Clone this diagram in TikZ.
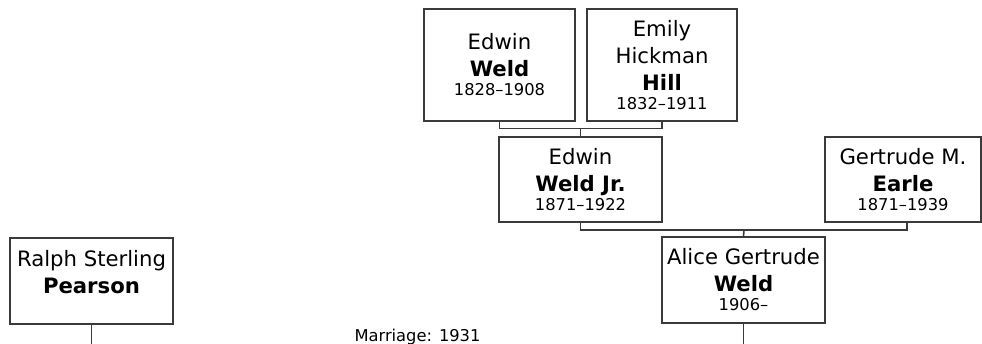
\documentclass[tikz,border=0pt]{standalone}
\usepackage{fontspec}
\setmainfont{DejaVu Sans}
\definecolor{linegray}{HTML}{3A3A3A}
\newcommand{\nm}{\fontsize{21.2}{27}\selectfont}
\newcommand{\dt}{\fontsize{16.3}{19}\selectfont}
\begin{document}
\begin{tikzpicture}[x=1pt,y=-1pt,
  person/.style={draw=linegray, line width=1.6pt, fill=white, inner sep=0pt,
    align=center, text=black, font=\nm},
  conn/.style={draw=linegray, line width=1.6pt},
  note/.style={font=\dt, text=black, inner sep=0pt}]
\useasboundingbox (0,0) rectangle (982,344);

\node[person, minimum width=151pt, minimum height=112pt] (A) at (499.5,65)
  {Edwin\\\textbf{Weld}\\[-8pt]{\dt 1828–1908}};
\node[person, minimum width=150pt, minimum height=112pt] (B) at (662,65)
  {Emily\\Hickman\\\textbf{Hill}\\[-8pt]{\dt 1832–1911}};
\node[person, minimum width=163pt, minimum height=85pt] (C) at (580.5,179.5)
  {Edwin\\\textbf{Weld Jr.}\\[-8pt]{\dt 1871–1922}};
\node[person, minimum width=156pt, minimum height=85pt] (D) at (903,179.5)
  {Gertrude M.\\\textbf{Earle}\\[-8pt]{\dt 1871–1939}};
\node[person, minimum width=163pt, minimum height=86pt] (E) at (743.5,280)
  {Alice Gertrude\\\textbf{Weld}\\[-8pt]{\dt 1906–}};
\node[person, minimum width=163pt, minimum height=86pt] (R) at (91.5,281)
  {Ralph Sterling\\\textbf{Pearson}\\[-8pt]{\dt\vphantom{1}}};

\node[note, anchor=base] (M) at (417.5,341.5) {Marriage: 1931};

\coordinate (ab) at (580.5,128.5);
\coordinate (cd) at (744,230);
\coordinate (eb) at (743.5,344);
\coordinate (rb) at (91.5,344);

\draw[conn] (A.south) |- (ab) -| (B.south);
\draw[conn] (ab) -- (C.north);
\draw[conn] (C.south) |- (cd) -| ([xshift=4pt]D.south);
\draw[conn] (cd) -- (E.north);
\draw[conn] (E.south) -- (eb);
\draw[conn] (R.south) -- (rb);
\end{tikzpicture}
\end{document}
